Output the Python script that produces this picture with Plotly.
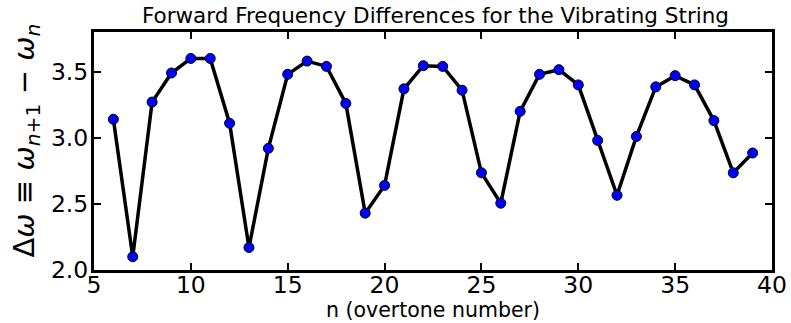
import plotly.graph_objects as go

# Overtone index n and forward difference omega_{n+1} - omega_n
overtone = list(range(6, 40))
delta_omega = [3.14, 2.10, 3.27, 3.49, 3.60, 3.60, 3.11, 2.17, 2.92, 3.48,
               3.58, 3.54, 3.26, 2.43, 2.64, 3.37, 3.545, 3.54, 3.36, 2.735,
               2.505, 3.20, 3.48, 3.515, 3.40, 2.98, 2.565, 3.01, 3.385, 3.47,
               3.40, 3.13, 2.735, 2.885]

x_ticks = [5, 10, 15, 20, 25, 30, 35, 40]
y_ticks = [2.0, 2.5, 3.0, 3.5]

FONT = "DejaVu Sans"

fig = go.Figure()
fig.add_trace(go.Scatter(
    x=overtone, y=delta_omega, mode="lines+markers",
    line=dict(color="black", width=3.5),
    marker=dict(color="#0000ff", size=10, line=dict(color="black", width=1)),
    showlegend=False,
))

axis_common = dict(
    showline=True, linecolor="black", linewidth=3, mirror="ticks",
    ticks="inside", ticklen=7, tickwidth=2, tickcolor="black",
    showgrid=False, zeroline=False, automargin=False,
    tickfont=dict(family=FONT, size=23.5, color="black"),
)

fig.update_xaxes(
    range=[5, 40], tickvals=x_ticks, ticktext=[str(v) for v in x_ticks],
    ticklabelstandoff=-8,
    **axis_common,
)
fig.update_yaxes(
    range=[2.0, 3.8], tickvals=y_ticks, ticktext=[f"{v:.1f}" for v in y_ticks],
    ticklabelstandoff=-2,
    **axis_common,
)

# Axis titles placed as annotations for precise positioning
fig.add_annotation(
    text="n (overtone number)", xref="paper", yref="paper",
    x=0.5, y=-0.2227, xanchor="center", yanchor="bottom", showarrow=False,
    borderpad=0,
    font=dict(family=FONT, size=20.5, color="black"),
)
fig.add_annotation(
    text="Δ<i>ω</i> ≡ <i>ω</i><sub><i>n</i>+1</sub> − <i>ω</i><sub><i>n</i></sub>",
    xref="paper", yref="paper", x=-0.1, y=0.545, xanchor="center", yanchor="middle",
    textangle=-90, showarrow=False,
    font=dict(family=FONT, size=29, color="black"),
)

fig.update_layout(
    width=791, height=323,
    margin=dict(l=94, r=19, t=32, b=53),
    paper_bgcolor="white", plot_bgcolor="white",
    title=dict(text="Forward Frequency Differences for the Vibrating String",
               font=dict(family=FONT, size=21.5, color="black"),
               x=0.5505, xanchor="center", y=0.953, yanchor="middle"),
)

fig.write_html("out.html")
